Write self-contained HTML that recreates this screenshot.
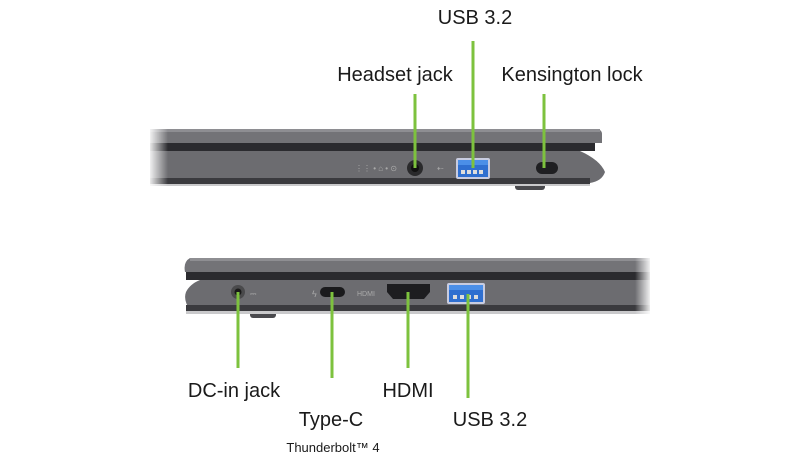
<!DOCTYPE html>
<html><head><meta charset="utf-8"><style>
html,body{margin:0;padding:0;background:#fff;width:800px;height:460px;overflow:hidden}
svg{display:block}
text{font-family:"Liberation Sans",sans-serif;fill:#1a1a1a}
</style></head><body>
<svg width="800" height="460" viewBox="0 0 800 460">
<defs>
<linearGradient id="fadeL" x1="0" x2="1"><stop offset="0" stop-color="#fff" stop-opacity="0.9"/><stop offset="1" stop-color="#fff" stop-opacity="0"/></linearGradient>
<linearGradient id="fadeR" x1="0" x2="1"><stop offset="0" stop-color="#fff" stop-opacity="0"/><stop offset="1" stop-color="#fff" stop-opacity="0.9"/></linearGradient>
</defs>
<!-- TOP LAPTOP -->
<rect x="515" y="183" width="30" height="7" rx="3" fill="#4a4a4e"/>
<path d="M150 129 L595 129 Q602 129 602 134 L602 143 L150 143 Z" fill="#737377"/>
<rect x="150" y="129" width="450" height="3" fill="#8e8e92"/>
<rect x="150" y="143" width="445" height="8" fill="#2b2b2f"/>
<path d="M150 151 L580 151 Q600 160 605 172 Q602 181 590 183 L150 183 Z" fill="#6c6c70"/>
<rect x="150" y="178" width="440" height="6" fill="#3a3a3e"/>
<rect x="150" y="184" width="440" height="2" fill="#c9c9cb"/>
<text x="355" y="171" font-size="8" style="fill:#aaa">⋮⋮ • ⌂ • ⊙</text>
<circle cx="415" cy="168" r="8" fill="#2a2a2c"/>
<circle cx="415" cy="168" r="4" fill="#111"/>
<text x="437" y="171" font-size="8" style="fill:#aaa">⇠</text>
<rect x="456" y="158" width="34" height="21" rx="2" fill="#c8cce0"/>
<rect x="458" y="160" width="30" height="17" fill="#2f6fd0"/>
<rect x="458" y="160" width="30" height="5" fill="#4b8fe8"/>
<rect x="461" y="170" width="4" height="4" fill="#ddd"/><rect x="467" y="170" width="4" height="4" fill="#ddd"/><rect x="473" y="170" width="4" height="4" fill="#ddd"/><rect x="479" y="170" width="4" height="4" fill="#ddd"/>
<rect x="536" y="162" width="22" height="12" rx="6" fill="#1f1f22"/>
<rect x="150" y="125" width="18" height="65" fill="url(#fadeL)"/>
<!-- BOTTOM LAPTOP -->
<rect x="250" y="309" width="26" height="9" rx="3" fill="#4a4a4e"/>
<path d="M190 258 L650 258 L650 272 L185 272 Q183 262 190 258 Z" fill="#737377"/>
<rect x="190" y="258" width="460" height="3" fill="#8e8e92"/>
<rect x="186" y="272" width="464" height="8" fill="#2b2b2f"/>
<path d="M200 280 L650 280 L650 310 L190 310 Q183 300 186 292 Q190 284 200 280 Z" fill="#6c6c70"/>
<rect x="186" y="305" width="464" height="6" fill="#3a3a3e"/>
<rect x="186" y="311" width="464" height="3" fill="#c9c9cb"/>
<circle cx="238" cy="292" r="7" fill="#4a4a4c"/><circle cx="238" cy="292" r="3.5" fill="#1a1a1a"/>
<text x="250" y="296" font-size="8" style="fill:#aaa">⎓</text>
<text x="312" y="297" font-size="9" style="fill:#aaa">ϟ</text>
<rect x="320" y="287" width="25" height="10" rx="5" fill="#1a1a1c"/>
<text x="357" y="296" font-size="7" style="fill:#aaa">HDMI</text>
<path d="M387 284 L430 284 L430 292 L424 299 L393 299 L387 292 Z" fill="#1d1d20"/>
<rect x="447" y="283" width="38" height="21" rx="2" fill="#c8cce0"/>
<rect x="449" y="285" width="34" height="17" fill="#2f6fd0"/>
<rect x="449" y="285" width="34" height="5" fill="#4b8fe8"/>
<rect x="453" y="295" width="4" height="4" fill="#ddd"/><rect x="460" y="295" width="4" height="4" fill="#ddd"/><rect x="467" y="295" width="4" height="4" fill="#ddd"/><rect x="474" y="295" width="4" height="4" fill="#ddd"/>
<rect x="635" y="252" width="15" height="70" fill="url(#fadeR)"/>
<!-- green lines -->
<g stroke="#7dc23e" stroke-width="3">
<line x1="473" y1="41" x2="473" y2="168"/>
<line x1="415" y1="94" x2="415" y2="168"/>
<line x1="544" y1="94" x2="544" y2="168"/>
<line x1="238" y1="292" x2="238" y2="368"/>
<line x1="332" y1="292" x2="332" y2="378"/>
<line x1="408" y1="292" x2="408" y2="368"/>
<line x1="468" y1="294" x2="468" y2="398"/>
</g>
<g font-size="20">
<text x="475" y="24" text-anchor="middle">USB 3.2</text>
<text x="395" y="81" text-anchor="middle">Headset jack</text>
<text x="572" y="81" text-anchor="middle">Kensington lock</text>
<text x="234" y="397" text-anchor="middle">DC-in jack</text>
<text x="331" y="426" text-anchor="middle">Type-C</text>
<text x="408" y="397" text-anchor="middle">HDMI</text>
<text x="490" y="426" text-anchor="middle">USB 3.2</text>
</g>
<text x="333" y="452" text-anchor="middle" font-size="13">Thunderbolt™ 4</text>
</svg>
</body></html>
